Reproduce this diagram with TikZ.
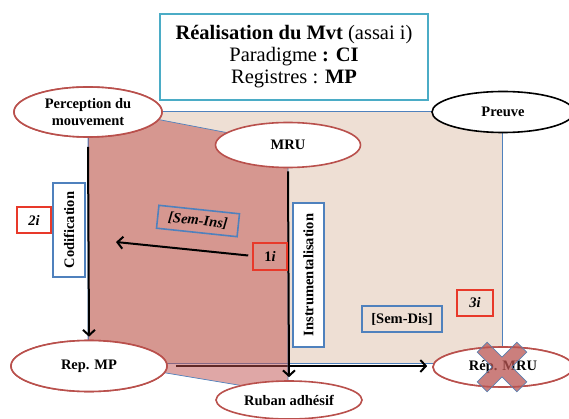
\documentclass[tikz,border=0pt]{standalone}
\usepackage{fontspec}
\setmainfont{Liberation Serif}
\usetikzlibrary{arrows.meta,shapes.geometric}
\definecolor{ellred}{HTML}{B9504C}
\definecolor{boxblue}{HTML}{4F81BD}
\definecolor{titleblue}{HTML}{4BACC6}
\definecolor{beigefill}{HTML}{EEDFD4}
\definecolor{polyred}{HTML}{C0504D}
\definecolor{redbox}{HTML}{E8392A}
\tikzset{
  oval/.style={ellipse, draw=ellred, line width=1.6pt, fill=white, inner sep=0pt,
    font=\fontsize{14.5}{16.5}\selectfont\bfseries, align=center},
  bluebox/.style={draw=boxblue, line width=1.6pt, inner sep=0pt,
    font=\fontsize{14.5}{16}\selectfont\bfseries},
  redlabel/.style={draw=redbox, line width=1.6pt, inner sep=0pt,
    font=\fontsize{14.5}{16}\selectfont\bfseries},
  arr/.style={line width=2pt, -{Straight Barb[length=5.5pt,width=12pt,line width=2pt]}},
}
\begin{document}
\begin{tikzpicture}[x=1pt,y=-1pt]
\useasboundingbox (0,0) rectangle (569,419);
% background regions
\draw[boxblue, line width=0.7pt, fill=beigefill] (88,111) rectangle (502,363);
% nodes (ellipses placed first as coordinates for arrows)
\node[oval, minimum width=148pt, minimum height=50pt] (perc) at (88,112) {Perception du\\mouvement};
\node[oval, minimum width=156pt, minimum height=51pt] (repmp) at (89,366) {Rep. MP};
\node[oval, minimum width=140pt, minimum height=40pt] (repmru) at (503,367) {Rép. MRU};
% horizontal arrow (under the translucent polygon)
\draw[arr] ([xshift=8pt]repmp.east) -- ([xshift=-5pt]repmp.east -| repmru.west);
% translucent red polygon
\draw[boxblue, line width=0.7pt, fill=polyred, fill opacity=0.5]
  (88,106) -- (255,138) -- (288,140) -- (288,388) -- (250,387) -- (100,362) -- (88,362) -- cycle;
% ellipses on top
\node[oval, minimum width=148pt, minimum height=50pt] at (88,112) {Perception du\\mouvement};
\node[oval, minimum width=156pt, minimum height=51pt] at (89,366) {Rep. MP};
\node[oval, minimum width=145pt, minimum height=45pt] (mru) at (288,145) {MRU};
\node[oval, minimum width=146pt, minimum height=38pt] (ruban) at (289,400) {Ruban adhésif};
\node[oval, draw=black, minimum width=142pt, minimum height=41pt] (preuve) at (503,112) {Preuve};
\node[oval, minimum width=140pt, minimum height=40pt] at (503,367) {Rép. MRU};
% vertical arrows
\draw[arr] ([yshift=-9pt]perc.south) -- ([yshift=3pt]repmp.north);
\draw[arr] ([yshift=-3pt]mru.south) -- ([yshift=3pt]ruban.north);
% title
\node[draw=titleblue, line width=1.8pt, fill=white, minimum width=268pt, minimum height=86pt,
  align=center, font=\fontsize{20.5}{22}\selectfont] (title) at (294,57)
  {\textbf{Réalisation du Mvt} (assai i)\\Paradigme \textbf{: CI}\\Registres : \textbf{MP}};
% labels
\node[bluebox, fill=white, rotate=90, minimum width=94pt, minimum height=32pt] (codif) at (69,230) {Codification};
\node[bluebox, fill=white, rotate=90, minimum width=144pt, minimum height=31pt] (instr) at (308.5,275) {Instrumentalisation};
\node[bluebox, rotate=-6, minimum width=81pt, minimum height=23pt] (semins) at (198,221) {\itshape [Sem-Ins]};
\node[bluebox, minimum width=80pt, minimum height=26pt] (semdis) at (402,319) {[Sem-Dis]};
\node[redlabel, fill=white, minimum width=34pt, minimum height=26pt] (b2) at (34,220) {\itshape 2i};
\node[redlabel, minimum width=34pt, minimum height=27pt] (b1) at (270,256.5) {1\textit{i}};
\node[redlabel, minimum width=36pt, minimum height=26pt] (b3) at (475,303) {\itshape 3i};
% arrow from 1i
\coordinate (semtip) at (116,242);
\draw[arr] ([xshift=-4pt,yshift=1pt]b1.west) -- (semtip);
% cross over Rép. MRU
\begin{scope}[shift={(502,367)}, rotate=45]
  \draw[boxblue!80!gray, line width=0.8pt, fill=polyred!90!gray, fill opacity=0.75]
    (-7,28) -- (7,28) -- (7,7) -- (28,7) -- (28,-7) -- (7,-7) -- (7,-28) -- (-7,-28)
    -- (-7,-7) -- (-28,-7) -- (-28,7) -- (-7,7) -- cycle;
\end{scope}
\end{tikzpicture}
\end{document}
